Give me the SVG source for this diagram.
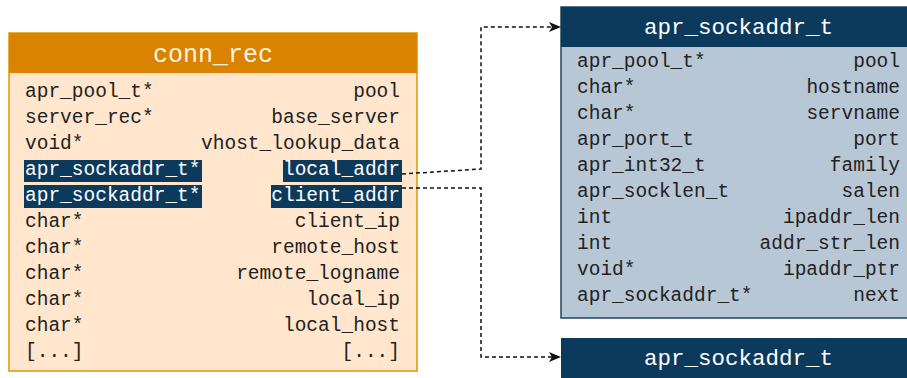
<svg xmlns="http://www.w3.org/2000/svg" width="907" height="378" viewBox="0 0 907 378">
  <style>
    .mono { font-family: "Liberation Mono", "Courier New", monospace; font-size: 19.5px; fill: #222; }
    .end { text-anchor: end; }
    .hl { fill: #0c3a5c; }
    .hltxt { fill: #ffffff; }
    .conn-head { fill: #da8300; }
    .conn-body { fill: #ffe6cc; stroke: #d79b00; stroke-width: 1.5; }
    .sa-head { fill: #0c3a5c; }
    .sa-body { fill: #b8c7d6; stroke: #23445d; stroke-width: 1.5; }
    .title { font-family: "Liberation Mono", "Courier New", monospace; text-anchor: middle; }
    .link { fill: none; stroke: #111; stroke-width: 1.5; stroke-dasharray: 4 3; }
  </style>
  <defs>
    <marker id="arrow" viewBox="0 0 12 10" refX="11" refY="5" markerWidth="12" markerHeight="10" markerUnits="userSpaceOnUse" orient="auto">
      <path d="M0,0 L12,5 L0,10 L3,5 Z" fill="#111"/>
    </marker>
  </defs>

  <rect width="907" height="378" fill="#ffffff"/>

  <!-- conn_rec structure -->
  <g id="conn_rec">
    <rect class="conn-body" x="9" y="33" width="408" height="338"/>
    <rect class="conn-head" x="9" y="33" width="408" height="40"/>
    <text class="title" x="213" y="62" font-size="25" fill="#fff3e0">conn_rec</text>

    <rect class="hl" x="24" y="160" width="178" height="22"/>
    <rect class="hl" x="283" y="160" width="119" height="22"/>
    <rect class="hl" x="24" y="185" width="178" height="23"/>
    <rect class="hl" x="271" y="185" width="131" height="23"/>

    <text class="mono" x="25" y="97">apr_pool_t*</text>
    <text class="mono end" x="400" y="97">pool</text>
    <text class="mono" x="25" y="123">server_rec*</text>
    <text class="mono end" x="400" y="123">base_server</text>
    <text class="mono" x="25" y="149">void*</text>
    <text class="mono end" x="400" y="149">vhost_lookup_data</text>
    <text class="mono hltxt" x="25" y="175">apr_sockaddr_t*</text>
    <text class="mono end hltxt" x="400" y="175">local_addr</text>
    <text class="mono hltxt" x="25" y="201">apr_sockaddr_t*</text>
    <text class="mono end hltxt" x="400" y="201">client_addr</text>
    <text class="mono" x="25" y="227">char*</text>
    <text class="mono end" x="400" y="227">client_ip</text>
    <text class="mono" x="25" y="253">char*</text>
    <text class="mono end" x="400" y="253">remote_host</text>
    <text class="mono" x="25" y="279">char*</text>
    <text class="mono end" x="400" y="279">remote_logname</text>
    <text class="mono" x="25" y="305">char*</text>
    <text class="mono end" x="400" y="305">local_ip</text>
    <text class="mono" x="25" y="331">char*</text>
    <text class="mono end" x="400" y="331">local_host</text>
    <text class="mono" x="25" y="357">[...]</text>
    <text class="mono end" x="400" y="357">[...]</text>
  </g>

  <!-- apr_sockaddr_t (expanded) -->
  <g id="sockaddr_local">
    <rect class="sa-body" x="561" y="7" width="355" height="311"/>
    <rect class="sa-head" x="561" y="7" width="355" height="40"/>
    <text class="title" x="738.5" y="34" font-size="22.5" fill="#ffffff">apr_sockaddr_t</text>

    <text class="mono" x="577" y="67">apr_pool_t*</text>
    <text class="mono end" x="900" y="67">pool</text>
    <text class="mono" x="577" y="93">char*</text>
    <text class="mono end" x="900" y="93">hostname</text>
    <text class="mono" x="577" y="119">char*</text>
    <text class="mono end" x="900" y="119">servname</text>
    <text class="mono" x="577" y="145">apr_port_t</text>
    <text class="mono end" x="900" y="145">port</text>
    <text class="mono" x="577" y="171">apr_int32_t</text>
    <text class="mono end" x="900" y="171">family</text>
    <text class="mono" x="577" y="197">apr_socklen_t</text>
    <text class="mono end" x="900" y="197">salen</text>
    <text class="mono" x="577" y="223">int</text>
    <text class="mono end" x="900" y="223">ipaddr_len</text>
    <text class="mono" x="577" y="249">int</text>
    <text class="mono end" x="900" y="249">addr_str_len</text>
    <text class="mono" x="577" y="275">void*</text>
    <text class="mono end" x="900" y="275">ipaddr_ptr</text>
    <text class="mono" x="577" y="301">apr_sockaddr_t*</text>
    <text class="mono end" x="900" y="301">next</text>
  </g>

  <!-- apr_sockaddr_t (collapsed) -->
  <g id="sockaddr_client">
    <rect class="sa-head" x="561" y="338" width="355" height="50"/>
    <text class="title" x="738.5" y="365" font-size="22.5" fill="#ffffff">apr_sockaddr_t</text>
  </g>

  <!-- pointer links -->
  <g id="connectors">
    <path class="link" d="M402,174 L481,169 L481,27 L560,27" marker-end="url(#arrow)"/>
    <path class="link" d="M402,188 L481,188 L481,357 L560,357" marker-end="url(#arrow)"/>
  </g>
</svg>
